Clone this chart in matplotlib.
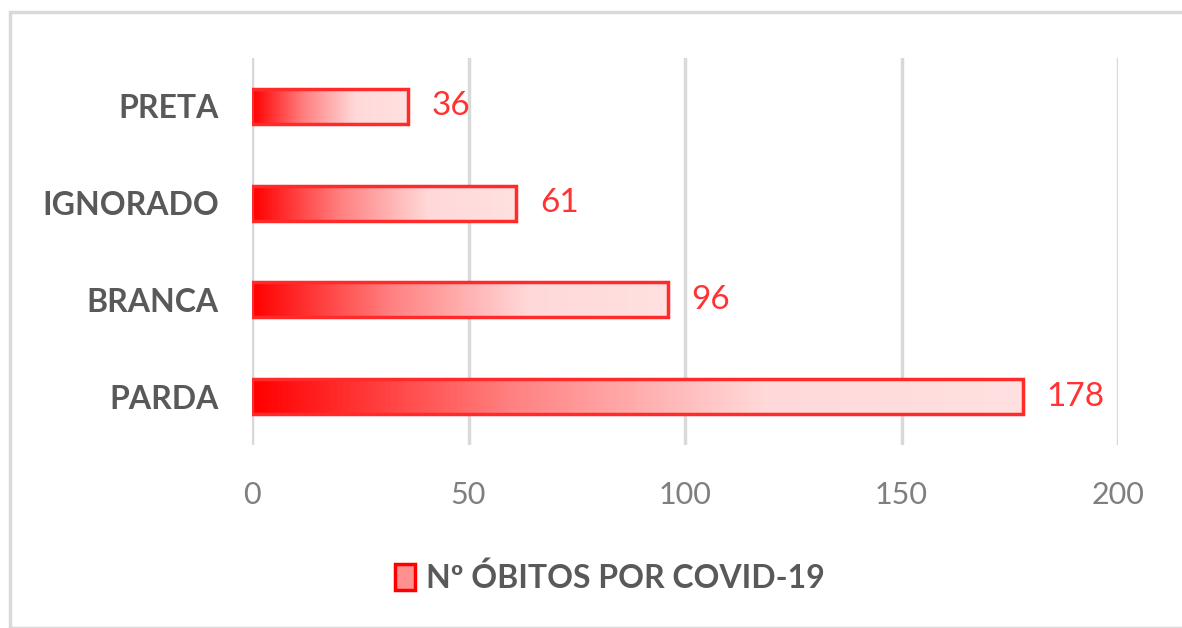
import matplotlib
matplotlib.use("Agg")
import matplotlib.pyplot as plt
import numpy as np
from matplotlib.patches import Rectangle
from matplotlib.colors import LinearSegmentedColormap

# data
categories = ["PARDA", "BRANCA", "IGNORADO", "PRETA"]
obitos = [178, 96, 61, 36]
xticks = [0, 50, 100, 150, 200]
legend_label = "Nº ÓBITOS POR COVID-19"

plt.rcParams['font.family'] = ['Lato', 'DejaVu Sans']

fig = plt.figure(figsize=(11.82, 6.28), dpi=100)
ax = fig.add_axes([0.2132, 0.2914, 0.7327, 0.6162])

# outer frame of the chart
fig.patches.append(Rectangle((10 / 1182, 0.0), 1.0, 1 - 12 / 628,
                             transform=fig.transFigure, fill=False,
                             edgecolor="#d9d9d9", linewidth=2.5))

grad = LinearSegmentedColormap.from_list("g", ["#ff0000", "#ff8080", "#ffd9d9", "#ffe0e0"])
bar_h = 0.36
y = np.arange(len(categories))
bars = ax.barh(y, obitos, height=bar_h, color="none", edgecolor="#ff2a2a",
               linewidth=2.5, zorder=3)
for b in bars:
    x0, y0 = b.get_x(), b.get_y()
    w, h = b.get_width(), b.get_height()
    ax.imshow(np.linspace(0, 1, 256).reshape(1, -1), cmap=grad, aspect="auto",
              extent=[x0, x0 + w, y0, y0 + h], zorder=2, interpolation="bicubic")

for yi, v in zip(y, obitos):
    ax.text(v + 5.5, yi, str(v), color="#ff3333", fontsize=24, va="center", ha="left")

ax.set_xlim(0, 200)
ax.set_ylim(-0.5, 3.5)
ax.set_xticks(xticks)
ax.set_xticklabels([str(t) for t in xticks], color="#7f7f7f", fontsize=22)
ax.set_yticks(y)
ax.set_yticklabels(categories, fontsize=23, fontweight="bold", color="#595959")
ax.tick_params(length=0, pad=24, axis="y")
ax.tick_params(length=0, pad=26, axis="x")
ax.grid(axis="x", color="#d9d9d9", linewidth=2.5, zorder=0)
ax.set_axisbelow(True)
for s in ax.spines.values():
    s.set_visible(False)

# legend
handle = Rectangle((0, 0), 1, 1, facecolor="#ff9090", edgecolor="#ff0000", linewidth=2.5)
fig.legend([handle], [legend_label], loc="center", bbox_to_anchor=(0.516, 0.08),
           frameon=False, handlelength=0.6, handleheight=0.9, handletextpad=0.35,
           prop={"size": 23, "weight": "bold"}, labelcolor="#595959")

fig.savefig("out.png", dpi=100)
